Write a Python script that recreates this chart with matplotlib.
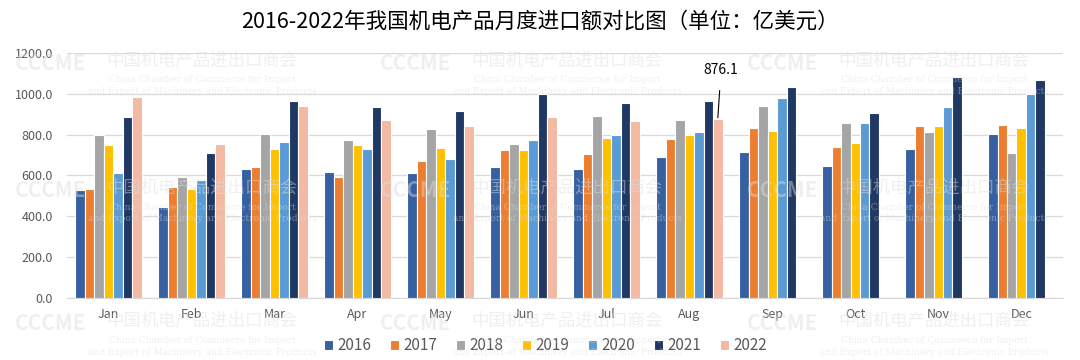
import numpy as np
import matplotlib
matplotlib.use('Agg')
import matplotlib.pyplot as plt

plt.rcParams['font.family'] = ['Noto Sans CJK SC', 'DejaVu Sans']

MONTHS = ['Jan', 'Feb', 'Mar', 'Apr', 'May', 'Jun', 'Jul', 'Aug', 'Sep', 'Oct', 'Nov', 'Dec']
YEARS = ['2016', '2017', '2018', '2019', '2020', '2021', '2022']

v2016 = [529, 444, 631, 616, 613, 641, 631, 693, 713, 646, 729, 803]
v2017 = [534, 544, 641, 593, 670, 723, 705, 780, 833, 738, 842, 847]
v2018 = [798, 593, 801, 775, 828, 756, 893, 872, 942, 857, 815, 708]
v2019 = [751, 534, 731, 751, 736, 723, 785, 800, 820, 760, 842, 833]
v2020 = [611, 577, 765, 731, 680, 775, 800, 815, 977, 857, 933, 1000]
v2021 = [885, 708, 965, 933, 918, 1000, 957, 965, 1034, 905, 1080, 1067]
v2022 = [985, 756, 942, 872, 842, 885, 867, 876.1, np.nan, np.nan, np.nan, np.nan]

series = [v2016, v2017, v2018, v2019, v2020, v2021, v2022]
colors = ['#3760A2', '#ED7D31', '#A5A5A5', '#FFC000', '#5B9BD5', '#203864', '#F4B9A2']

fig = plt.figure(figsize=(10.8, 3.6), dpi=100)
ax = fig.add_axes([0.062, 0.172, 0.922, 0.681])

x = np.arange(len(MONTHS))
n = len(series)
w = 0.8 / n
for i, vals in enumerate(series):
    ax.bar(x - 0.4 + w * (i + 0.5), vals, width=w, color=colors[i],
           edgecolor='white', linewidth=0.8, label=YEARS[i], zorder=3)

# data label for Aug 2022
aug_x = 7 - 0.4 + w * 6.5
ax.annotate('876.1', xy=(aug_x, v2022[7]), xytext=(aug_x + 0.04, 1118),
            ha='center', va='center', fontsize=10, color='#000000',
            arrowprops=dict(arrowstyle='-', color='#000000', lw=0.8,
                            shrinkA=8, shrinkB=1))

ax.set_xlim(-0.5, 11.5)
ax.set_ylim(0, 1200)
ax.set_yticks(np.arange(0, 1201, 200))
ax.set_yticklabels(['%.1f' % t for t in np.arange(0, 1201, 200)])
ax.set_xticks(x)
ax.set_xticklabels(MONTHS)
ax.tick_params(axis='both', length=0, labelsize=9, colors='#595959')
ax.tick_params(axis='x', pad=7)
ax.tick_params(axis='y', pad=10)
ax.grid(axis='y', color='#D9D9D9', linewidth=0.9, zorder=0)
for s in ['top', 'right', 'left']:
    ax.spines[s].set_visible(False)
ax.spines['bottom'].set_color('#D9D9D9')
ax.spines['bottom'].set_linewidth(0.9)

fig.text(0.5, 0.94, '2016-2022年我国机电产品月度进口额对比图（单位：亿美元）',
         ha='center', va='center', fontsize=15.5, color='#000000')

leg = fig.legend(loc='center', bbox_to_anchor=(0.505, 0.04), ncol=7, frameon=False,
                 fontsize=11, handlelength=0.6, handleheight=0.6, handletextpad=0.3,
                 columnspacing=1.2)
for t in leg.get_texts():
    t.set_color('#595959')

# faint watermarks of the chamber of commerce
wm_cols = [0.187, 0.525, 0.865]
wm_rows = [0.833, 0.48, 0.11]
wm_color = '#DDDDDD'
for cx in wm_cols:
    for cy in wm_rows:
        fig.text(cx - 0.14, cy - 0.01, 'CCCME', ha='center', va='center', fontsize=15,
                 fontweight='bold', color=wm_color, alpha=0.45, zorder=10)
        fig.text(cx, cy, '中国机电产品进出口商会', ha='center', va='center',
                 fontsize=12.5, color=wm_color, alpha=0.45, zorder=10)
        fig.text(cx, cy - 0.055, 'China Chamber of Commerce for Import', ha='center',
                 va='center', fontsize=6.5, family='DejaVu Serif',
                 color=wm_color, alpha=0.45, zorder=10)
        fig.text(cx, cy - 0.088, 'and Export of Machinery and Electronic Products',
                 ha='center', va='center', fontsize=6.5, family='DejaVu Serif',
                 color=wm_color, alpha=0.45, zorder=10)

fig.savefig('out.png', dpi=100, facecolor='white')
